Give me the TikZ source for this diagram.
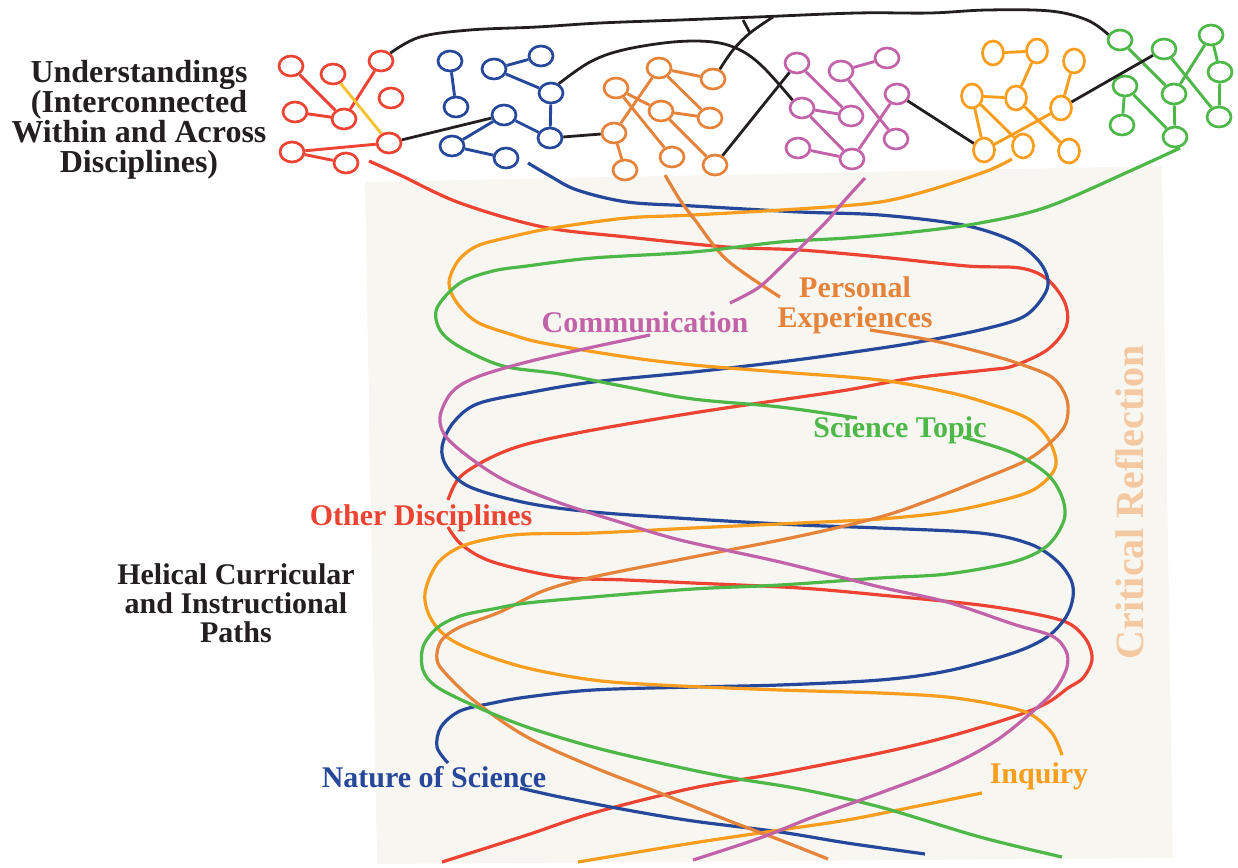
\documentclass[tikz,border=0pt]{standalone}
\usepackage{fontspec}
\setmainfont{Liberation Serif}
\usetikzlibrary{shapes.geometric}
\definecolor{redS}{HTML}{EC4332}
\definecolor{blueS}{HTML}{25489B}
\definecolor{dorS}{HTML}{E6833A}
\definecolor{yorS}{HTML}{F89D1D}
\definecolor{grnS}{HTML}{4DB748}
\definecolor{magS}{HTML}{C263A9}
\definecolor{txtC}{HTML}{231F20}
\definecolor{peachC}{HTML}{F4C8A0}
\definecolor{bgC}{HTML}{F7F6F1}
\definecolor{goldC}{HTML}{F7C132}
\tikzset{
  nd/.style={ellipse, draw=#1, line width=2.7pt, minimum width=24pt, minimum height=20pt, inner sep=0pt},
  ndv/.style={ellipse, draw=#1, line width=2.7pt, minimum width=21pt, minimum height=24pt, inner sep=0pt},
  ed/.style={draw=#1, line width=2.9pt},
  bk/.style={draw=txtC, line width=2.8pt},
  st/.style={draw=#1, line width=3.2pt},
  lab/.style={font=\bfseries\fontsize{30}{30}\selectfont, inner sep=0pt, anchor=base},
  blk/.style={font=\bfseries\fontsize{#1}{#1}\selectfont, inner sep=0pt, anchor=north, align=center, text=txtC}
}
\begin{document}
\begin{tikzpicture}[x=1pt,y=-1pt]
\useasboundingbox (0,0) rectangle (1238,867);
\fill[bgC] (365,182) -- (1162,166) -- (1173,858) -- (377,864) -- cycle;

% ---------- clusters ----------
% red
\node[nd=redS] (R1) at (291,66) {};
\node[nd=redS] (R2) at (333,74) {};
\node[nd=redS] (R3) at (381,61) {};
\node[nd=redS] (R4) at (391,98) {};
\node[nd=redS] (R5) at (295,112) {};
\node[nd=redS] (R6) at (344,119) {};
\node[nd=redS] (R7) at (389,143) {};
\node[nd=redS] (R8) at (292,152) {};
\node[nd=redS] (R9) at (346,163) {};
\draw[ed=redS] (R1) -- (R6);
\draw[ed=redS] (R5) -- (R6);
\draw[ed=redS] (R3) -- (R6);
\draw[ed=redS] (R8) -- (R7);
\draw[ed=redS] (R8) -- (R9);
\draw[ed=goldC] (R2) -- (R7);
% blue
\node[nd=blueS] (B1) at (450,61) {};
\node[nd=blueS] (B2) at (541,56) {};
\node[nd=blueS] (B3) at (494,69) {};
\node[nd=blueS] (B4) at (551,93) {};
\node[nd=blueS] (B5) at (456,107) {};
\node[nd=blueS] (B6) at (504,115) {};
\node[nd=blueS] (B7) at (550,138) {};
\node[nd=blueS] (B8) at (452,146) {};
\node[nd=blueS] (B9) at (506,158) {};
\draw[ed=blueS] (B1) -- (B5);
\draw[ed=blueS] (B3) -- (B2);
\draw[ed=blueS] (B3) -- (B4);
\draw[ed=blueS] (B4) -- (B7);
\draw[ed=blueS] (B6) -- (B7);
\draw[ed=blueS] (B6) -- (B8);
\draw[ed=blueS] (B8) -- (B9);
% dark orange
\node[nd=dorS] (O1) at (659,68) {};
\node[nd=dorS] (O2) at (616,88) {};
\node[nd=dorS] (O3) at (713,79) {};
\node[nd=dorS] (O4) at (661,111) {};
\node[nd=dorS] (O5) at (710,118) {};
\node[nd=dorS] (O6) at (614,133) {};
\node[nd=dorS] (O7) at (672,157) {};
\node[nd=dorS] (O8) at (715,165) {};
\node[nd=dorS] (O9) at (625,170) {};
\draw[ed=dorS] (O1) -- (O3);
\draw[ed=dorS] (O1) -- (O6);
\draw[ed=dorS] (O1) -- (O5);
\draw[ed=dorS] (O2) -- (O4);
\draw[ed=dorS] (O2) -- (O7);
\draw[ed=dorS] (O4) -- (O5);
\draw[ed=dorS] (O4) -- (O8);
\draw[ed=dorS] (O6) -- (O9);
% magenta
\node[nd=magS] (M1) at (797,63) {};
\node[nd=magS] (M2) at (841,71) {};
\node[nd=magS] (M3) at (887,58) {};
\node[nd=magS] (M4) at (802,108) {};
\node[nd=magS] (M5) at (851,116) {};
\node[nd=magS] (M6) at (897,94) {};
\node[nd=magS] (M7) at (798,148) {};
\node[nd=magS] (M8) at (852,159) {};
\node[nd=magS] (M9) at (896,139) {};
\draw[ed=magS] (M2) -- (M3);
\draw[ed=magS] (M1) -- (M5);
\draw[ed=magS] (M4) -- (M5);
\draw[ed=magS] (M4) -- (M8);
\draw[ed=magS] (M7) -- (M8);
\draw[ed=magS] (M2) -- (M9);
\draw[ed=magS] (M6) -- (M8);
% yellow-orange
\node[ndv=yorS] (Y1) at (993,53) {};
\node[ndv=yorS] (Y2) at (1037,51) {};
\node[ndv=yorS] (Y3) at (1074,61) {};
\node[ndv=yorS] (Y4) at (972,96) {};
\node[ndv=yorS] (Y5) at (1016,98) {};
\node[ndv=yorS] (Y6) at (1061,108) {};
\node[ndv=yorS] (Y7) at (984,150) {};
\node[ndv=yorS] (Y8) at (1023,146) {};
\node[ndv=yorS] (Y9) at (1069,151) {};
\draw[ed=yorS] (Y1) -- (Y2);
\draw[ed=yorS] (Y2) -- (Y5);
\draw[ed=yorS] (Y4) -- (Y5);
\draw[ed=yorS] (Y3) -- (Y6);
\draw[ed=yorS] (Y4) -- (Y7);
\draw[ed=yorS] (Y4) -- (Y8);
\draw[ed=yorS] (Y5) -- (Y9);
\draw[ed=yorS] (Y6) -- (Y7);
% green
\node[nd=grnS] (G1) at (1120,40) {};
\node[nd=grnS] (G2) at (1164,49) {};
\node[nd=grnS] (G3) at (1211,35) {};
\node[nd=grnS] (G4) at (1220,72) {};
\node[nd=grnS] (G5) at (1125,86) {};
\node[nd=grnS] (G6) at (1174,94) {};
\node[nd=grnS] (G7) at (1219,117) {};
\node[nd=grnS] (G8) at (1122,125) {};
\node[nd=grnS] (G9) at (1175,137) {};
\draw[ed=grnS] (G1) -- (G6);
\draw[ed=grnS] (G2) -- (G7);
\draw[ed=grnS] (G3) -- (G6);
\draw[ed=grnS] (G3) -- (G4);
\draw[ed=grnS] (G4) -- (G7);
\draw[ed=grnS] (G5) -- (G8);
\draw[ed=grnS] (G5) -- (G9);
\draw[ed=grnS] (G6) -- (G9);

% ---------- black links ----------
\coordinate (J) at (750,33);
\coordinate (Jt) at (773,17);
\coordinate (Jl) at (743,20);
\draw[bk] plot[smooth, tension=0.6] coordinates {(R3.40) (420,37) (470,30) (537,27) (600,23) (680,20) (757,17) (857,13) (930,13) (987,10) (1050,11) (1087,20) (G1.155)};
\draw[bk] plot[smooth, tension=0.6] coordinates {(O3.55) (733,50) (J) (Jt)};
\draw[bk] (Jl) -- (J);
\draw[bk] plot[smooth, tension=0.6] coordinates {(B4.50) (590,62) (623,50) (673,42) (713,42) (740,50) (763,67) (M4.140)};
\draw[bk] (O8) -- (M1);
\draw[bk] (R7) -- (B6);
\draw[bk] (B7) -- (O6);
\draw[bk] (M6) -- (Y7);
\draw[bk] (Y6) -- (G2);

% ---------- helical strands ----------
% red: Other Disciplines
\draw[st=redS] plot[smooth, tension=0.55] coordinates {(369,161) (400,175) (460,203) (543,227) (627,237) (727,247) (800,250) (880,257) (967,266) (1020,268) (1047,279) (1065,303) (1066,327) (1047,350) (1013,366) (987,370) (913,378) (847,390) (780,400) (693,413) (593,430) (527,444) (490,458) (460,477) (448,500)};
\draw[st=redS] plot[smooth, tension=0.55] coordinates {(448,527) (462,545) (493,562) (560,577) (627,580) (693,583) (800,588) (880,595) (980,605) (1040,615) (1070,624) (1087,641) (1092,660) (1083,678) (1068,688) (1047,703) (1013,717) (947,737) (880,753) (780,773) (693,788) (593,813) (527,835) (442,862)};
% blue: Nature of Science
\draw[st=blueS] plot[smooth, tension=0.55] coordinates {(528,163) (550,176) (577,190) (627,202) (693,206) (800,212) (880,215) (963,225) (1013,241) (1038,260) (1048,280) (1043,297) (1023,317) (980,330) (913,343) (847,353) (780,362) (693,372) (593,382) (527,393) (477,404) (453,423) (442,447) (447,467) (470,487) (527,503) (593,512) (693,519) (800,525) (880,528) (980,533) (1030,544) (1057,561) (1071,580) (1073,597) (1066,617) (1047,637) (1013,653) (947,671) (880,680) (780,685) (693,687) (593,690) (527,697) (493,703) (460,711) (441,727) (437,747) (448,763)};
\draw[st=blueS] plot[smooth, tension=0.55] coordinates {(520,788) (560,797) (627,810) (693,821) (780,832) (847,843) (925,854)};
% yellow-orange: Inquiry
\draw[st=yorS] plot[smooth, tension=0.55] coordinates {(1012,159) (987,171) (930,190) (880,202) (813,208) (693,215) (627,218) (553,228) (510,237) (477,246) (458,261) (449,283) (457,303) (477,322) (510,334) (543,343) (627,357) (693,365) (780,372) (880,380) (947,392) (987,403) (1027,418) (1047,437) (1056,460) (1051,475) (1033,490) (1003,500) (947,512) (880,519) (800,523) (693,528) (593,533) (527,534) (493,538) (460,547) (437,564) (425,593) (430,617) (447,637) (477,652) (527,668) (593,680) (660,685) (780,690) (880,693) (947,697) (997,705) (1030,714) (1052,733) (1062,755)};
\draw[st=yorS] plot[smooth, tension=0.55] coordinates {(982,793) (913,807) (847,820) (780,830) (693,843) (578,862)};
% dark orange: Personal Experiences
\draw[st=dorS] plot[smooth, tension=0.55] coordinates {(665,175) (680,200) (695,220) (727,260) (780,297)};
\draw[st=dorS] plot[smooth, tension=0.55] coordinates {(870,330) (930,340) (980,352) (1020,364) (1053,378) (1067,400) (1066,423) (1053,440) (1027,460) (980,480) (930,500) (880,517) (800,536) (693,557) (593,577) (543,591) (500,612) (460,627) (441,641) (437,660) (447,675) (477,703) (527,737) (593,767) (660,793) (727,820) (780,840) (828,859)};
% green: Science Topic
\draw[st=grnS] plot[smooth, tension=0.55] coordinates {(1180,148) (1130,171) (1047,207) (980,223) (913,232) (847,238) (780,242) (693,252) (593,258) (527,266) (493,271) (460,283) (437,308) (440,330) (460,347) (503,366) (560,374) (627,387) (693,399) (780,407) (857,418)};
\draw[st=grnS] plot[smooth, tension=0.55] coordinates {(963,437) (1013,453) (1047,474) (1062,497) (1064,520) (1047,546) (1013,562) (947,574) (880,578) (780,585) (693,589) (593,597) (527,603) (493,609) (460,616) (437,628) (423,647) (423,670) (437,687) (477,707) (527,727) (593,747) (660,763) (727,777) (800,789) (880,807) (980,837) (1062,857)};
% magenta: Communication
\draw[st=magS] plot[smooth, tension=0.55] coordinates {(865,178) (845,200) (826,222) (800,248) (780,268) (758,288) (730,303)};
\draw[st=magS] plot[smooth, tension=0.55] coordinates {(650,335) (593,347) (527,362) (477,377) (452,392) (440,417) (447,438) (477,463) (510,483) (560,503) (613,520) (680,540) (780,562) (880,587) (947,602) (1013,624) (1052,636) (1066,651) (1067,667) (1057,687) (1040,705) (997,740) (947,767) (880,793) (813,817) (760,838) (693,860)};

% ---------- labels ----------
\node[lab, text=magS] (lcom) at (645,332) {Communication};
\node[lab, text=dorS, align=center, anchor=north] (lpers) at (855,276) {Personal\\Experiences};
\node[lab, text=grnS] (lsci) at (900,437) {Science Topic};
\node[lab, text=redS] (loth) at (421,525) {Other Disciplines};
\node[lab, text=blueS] (lnat) at (434,787) {Nature of Science};
\node[lab, text=yorS] (linq) at (1039,783) {Inquiry};
\node[font=\bfseries\fontsize{40}{40}\selectfont, inner sep=0pt, anchor=base, rotate=90, text=peachC] (lcrit) at (1143,502) {Critical Reflection};
\node[blk=32, font=\bfseries\fontsize{32}{30}\selectfont] (lund) at (139,60) {Understandings\\(Interconnected\\Within and Across\\Disciplines)};
\node[blk=30, font=\bfseries\fontsize{30}{29}\selectfont] (lhel) at (236,563) {Helical Curricular\\and Instructional\\Paths};
\end{tikzpicture}
\end{document}
